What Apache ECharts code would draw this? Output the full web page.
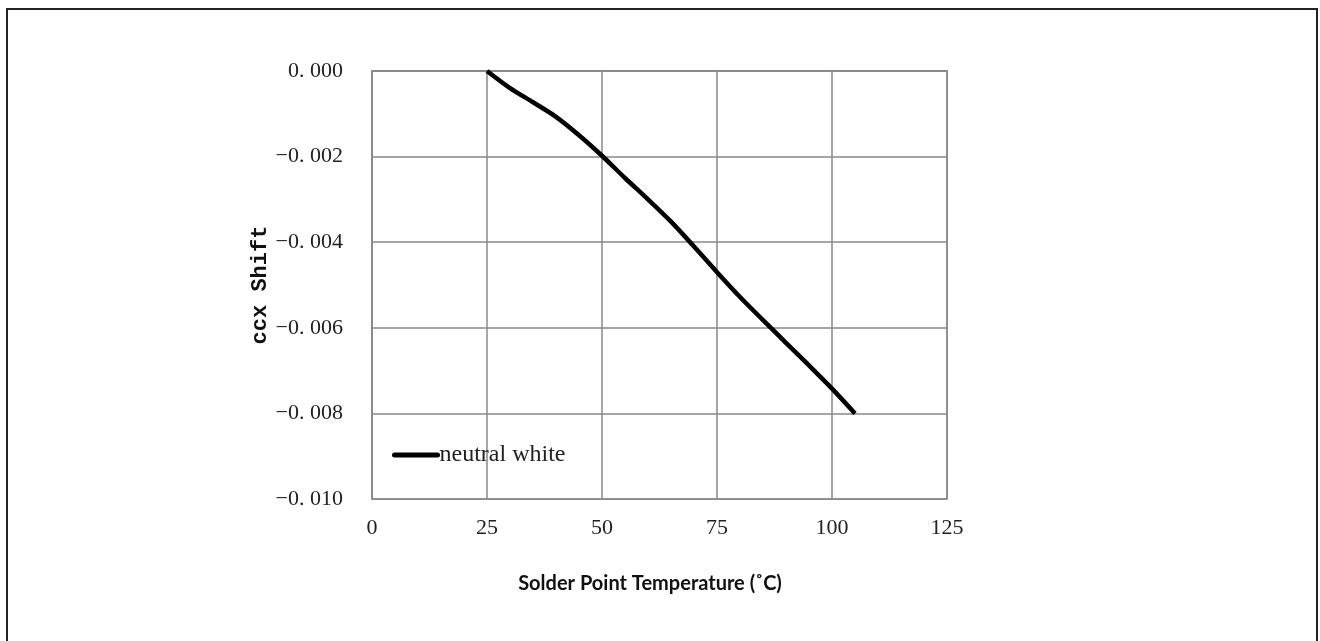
<!DOCTYPE html>
<html><head><meta charset="utf-8">
<script src="https://cdn.jsdelivr.net/npm/echarts@6/dist/echarts.min.js"></script>
<style>html,body{margin:0;padding:0;background:#fff}#c{width:1320px;height:641px}</style>
</head><body><div id="c"></div>
<script>
var temps = [25, 30, 35, 40, 45, 50, 55, 60, 65, 70, 75, 80, 85, 90, 95, 100, 105];
var shift = [0, -0.0004, -0.00073, -0.00107, -0.0015, -0.00198, -0.0025, -0.0030, -0.00352, -0.0041, -0.0047, -0.00528, -0.00582, -0.00635, -0.00688, -0.00742, -0.0080];
var seriesName = 'neutral white';
var xTitle = 'Solder Point Temperature (˚C)';
var yTitle = 'ccx Shift';

var chart = echarts.init(document.getElementById('c'));
var tickFont = '"Liberation Serif", serif';
chart.setOption({
  animation: false,
  graphic: [{type:'rect', shape:{x:7, y:9, width:1310, height:640}, style:{fill:'none', stroke:'#222', lineWidth:2}, silent:true}],
  grid: {left: 372, top: 71, width: 575, height: 428, show: true, borderColor: '#888', borderWidth: 1.5},
  legend: {left: 392, top: 443, padding: 0, itemWidth: 43, itemHeight: 22, itemGap: 0,
    lineStyle: {width: 5, cap: 'round'},
    itemStyle: {color: 'rgba(0,0,0,0)', borderWidth: 0},
    textStyle: {fontFamily: tickFont, fontSize: 24, color: '#222', padding: [0, 0, 0, -3]},
    data: [{name: seriesName}]},
  xAxis: {type: 'value', min: 0, max: 125, interval: 25,
    name: xTitle, nameLocation: 'middle', nameGap: 75,
    nameTextStyle: {fontFamily: 'Lato, "Open Sans", sans-serif', fontWeight: 'bold', fontSize: 20, color: '#111', padding: [0, 19, 0, 0]},
    axisLine: {show: true, lineStyle: {color: '#888', width: 1.5}},
    axisTick: {show: false},
    axisLabel: {fontFamily: tickFont, fontSize: 22, color: '#222', margin: 18},
    splitLine: {show: true, lineStyle: {color: '#888', width: 1.5}}},
  yAxis: {type: 'value', min: -0.01, max: 0, interval: 0.002,
    name: yTitle, nameLocation: 'middle', nameGap: 100, nameRotate: 90,
    nameTextStyle: {fontFamily: '"Liberation Mono", monospace', fontWeight: 'bold', fontSize: 22, color: '#111'},
    axisLine: {show: true, lineStyle: {color: '#888', width: 1.5}},
    axisTick: {show: false},
    axisLabel: {fontFamily: tickFont, fontSize: 22, color: '#222', margin: 29,
      formatter: function (v) { return v.toFixed(3).replace('.', '. ').replace('-', '\u2212'); }},
    splitLine: {show: true, lineStyle: {color: '#888', width: 1.5}}},
  series: [{name: seriesName, type: 'line', smooth: 0.3, symbol: 'none',
    lineStyle: {color: '#000', width: 4.5}, itemStyle: {color: '#000'},
    data: temps.map(function (t, i) { return [t, shift[i]]; })}]
});
</script></body></html>
